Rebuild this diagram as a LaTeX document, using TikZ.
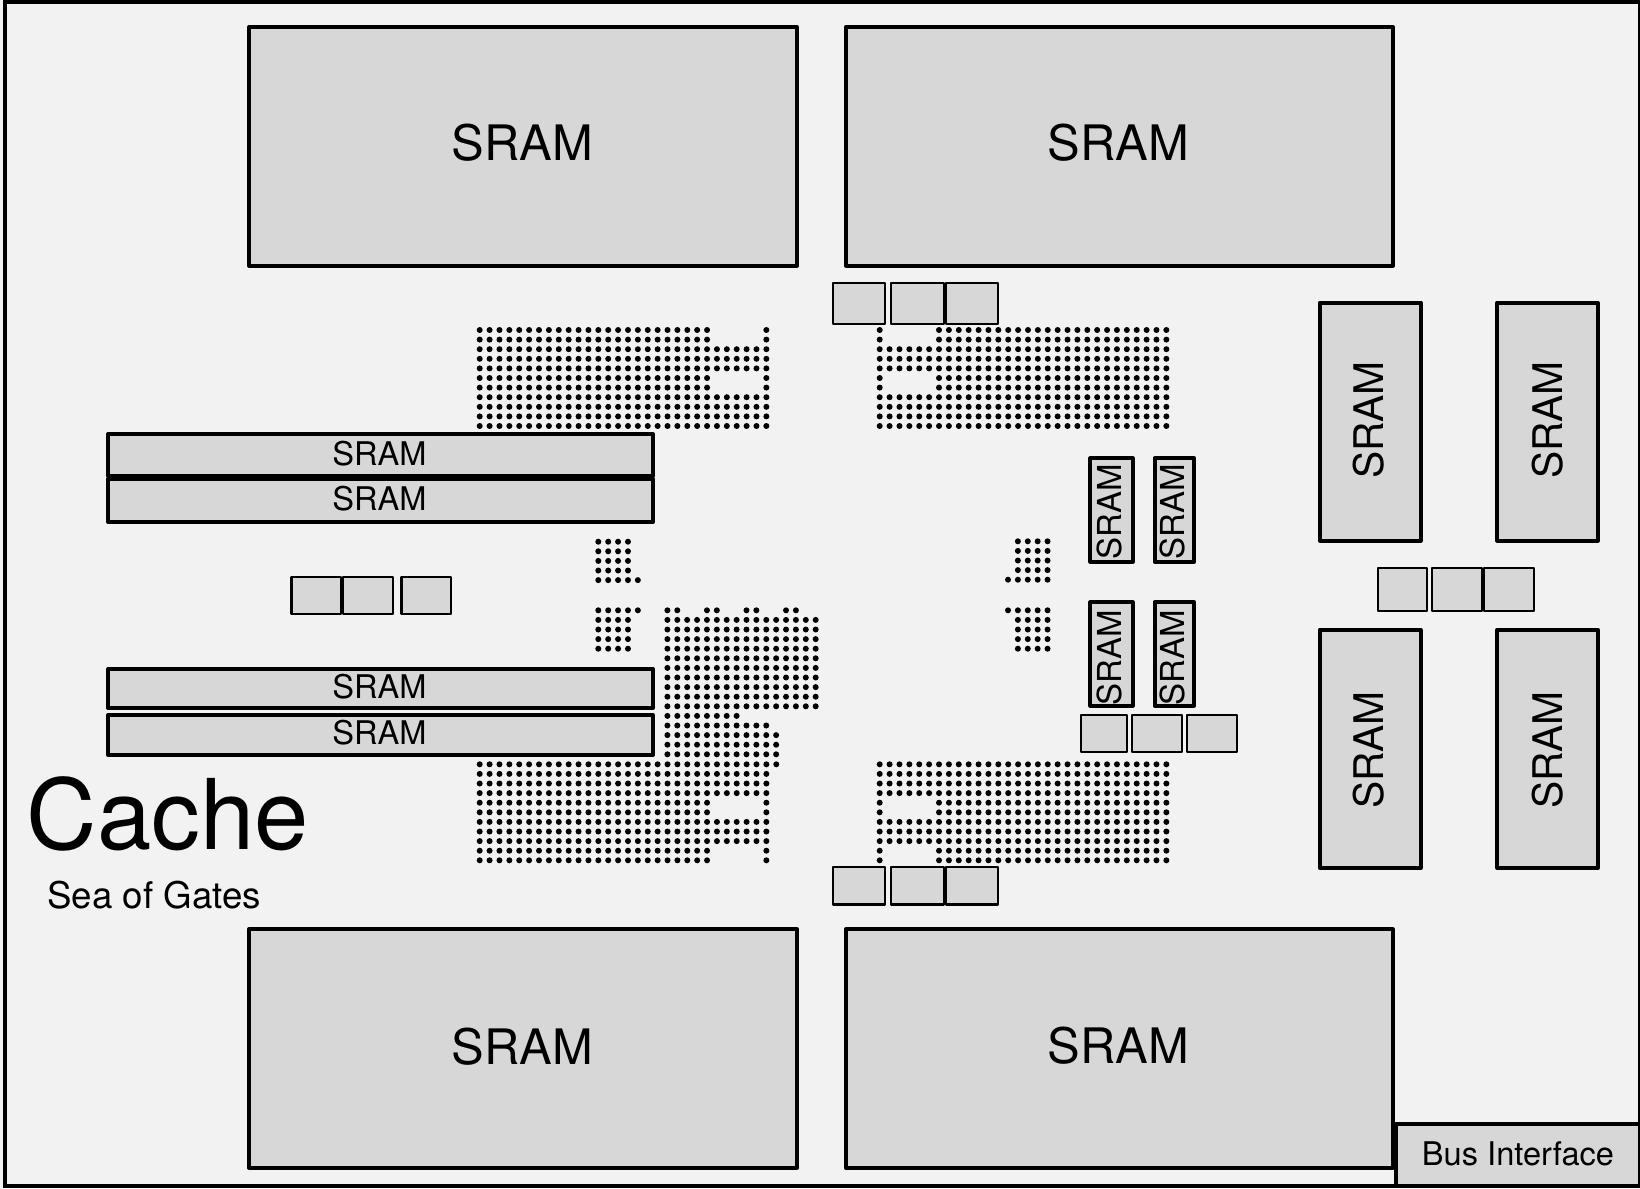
\documentclass[tikz,border=0pt]{standalone}
\usepackage{fontspec}
\setmainfont{TeX Gyre Heros}
\definecolor{bgc}{HTML}{F2F2F2}
\definecolor{cellc}{HTML}{D7D7D7}
\newcommand\fsz[1]{\fontsize{#1}{#1}\selectfont}
\tikzset{
  thick box/.style={draw=black,fill=cellc,line width=4pt,line join=round},
  thin box/.style={draw=black,fill=cellc,line width=2.2pt,line join=round},
  lab/.style={inner sep=0pt,outer sep=0pt,anchor=base,text=black},
  dot/.style={fill=black},
}
% name, x1, y1, x2, y2, style
\newcommand\cell[6]{\draw[#6] (#2,#3) rectangle (#4,#5) coordinate[pos=.5] (#1);}
% x0, y0, list of row/from/to
\newcommand\dotblock[3]{%
  \foreach \r/\a/\b in {#3} {%
    \foreach \c in {\a,...,\b} {%
      \fill[dot] ({#1+9.885*\c},{#2+9.6*\r}) circle[radius=3];
    }%
  }%
}
\begin{document}
\begin{tikzpicture}[x=1pt,y=-1pt]
\useasboundingbox (0,0) rectangle (1640,1188);
\fill[bgc] (0,0) rectangle (1640,1188);
% bus interface
\cell{bus}{1396}{1124.3}{1640}{1186}{thick box}
\node[lab,font=\fsz{32.6}] (busl) at (1518,1165.3) {Bus Interface};
\draw[black,line width=4pt] (4.5,2.2) rectangle (1640,1186);
% big SRAM
\cell{a1}{249}{27}{797}{265.5}{thick box}
\cell{a2}{845.8}{27}{1393}{265.5}{thick box}
\cell{a3}{249}{929.3}{797}{1167.7}{thick box}
\cell{a4}{845.8}{929.3}{1392.8}{1167.7}{thick box}
\node[lab,font=\fsz{48.9}] (a1l) at (522.5,160.5) {SRAM};
\node[lab,font=\fsz{48.9}] (a2l) at (1118.5,160.5) {SRAM};
\node[lab,font=\fsz{48.9}] (a3l) at (522.5,1064) {SRAM};
\node[lab,font=\fsz{48.9}] (a4l) at (1118.5,1063.5) {SRAM};
% long SRAM
\cell{b1}{108}{434}{653}{476.3}{thick box}
\cell{b2}{108}{479.3}{653}{522}{thick box}
\cell{b3}{108}{669}{653}{708}{thick box}
\cell{b4}{108}{715}{653}{754.7}{thick box}
\node[lab,font=\fsz{32.6}] (b1l) at (379.5,465) {SRAM};
\node[lab,font=\fsz{32.6}] (b2l) at (379.5,510) {SRAM};
\node[lab,font=\fsz{32.6}] (b3l) at (379.5,698.3) {SRAM};
\node[lab,font=\fsz{32.6}] (b4l) at (379.5,744) {SRAM};
% right SRAM
\cell{c1}{1319.7}{302.5}{1420.5}{540.5}{thick box}
\cell{c2}{1497.3}{302.5}{1597.7}{540.5}{thick box}
\cell{c3}{1319.7}{629.7}{1420.5}{868}{thick box}
\cell{c4}{1497.3}{629.7}{1597.7}{868}{thick box}
\node[lab,font=\fsz{40.8},rotate=90] (c1l) at (1383,420) {SRAM};
\node[lab,font=\fsz{40.8},rotate=90] (c2l) at (1562.5,420) {SRAM};
\node[lab,font=\fsz{40.8},rotate=90] (c3l) at (1383,750) {SRAM};
\node[lab,font=\fsz{40.8},rotate=90] (c4l) at (1562.5,750) {SRAM};
% small vertical SRAM
\cell{d1}{1090.3}{458.3}{1132.5}{561.8}{thick box}
\cell{d2}{1154.5}{458.3}{1194}{561.8}{thick box}
\cell{d3}{1090.3}{602.3}{1132.5}{705.5}{thick box}
\cell{d4}{1154.5}{602.3}{1194}{705.5}{thick box}
\node[lab,font=\fsz{33},rotate=90] (d1l) at (1121,511.7) {SRAM};
\node[lab,font=\fsz{33},rotate=90] (d2l) at (1184,511.7) {SRAM};
\node[lab,font=\fsz{33},rotate=90] (d3l) at (1121,657.7) {SRAM};
\node[lab,font=\fsz{33},rotate=90] (d4l) at (1184,657.7) {SRAM};
% small empty boxes
\cell{e1}{832.7}{283.3}{885.3}{323.7}{thin box}
\cell{e2}{891}{283.3}{943.7}{323.7}{thin box}
\cell{e3}{945.7}{283.3}{998.3}{323.7}{thin box}
\cell{f1}{832.7}{867.3}{885.3}{904.5}{thin box}
\cell{f2}{891}{867.3}{943.7}{904.5}{thin box}
\cell{f3}{945.7}{867.3}{998.3}{904.5}{thin box}
\cell{g1}{291.5}{576.7}{340.7}{614}{thin box}
\cell{g2}{343.3}{576.7}{393.3}{614}{thin box}
\cell{g3}{401.5}{576.7}{451}{614}{thin box}
\cell{h1}{1377.8}{568}{1426.7}{610.7}{thin box}
\cell{h2}{1432.3}{568}{1482}{610.7}{thin box}
\cell{h3}{1484.3}{568}{1534}{610.7}{thin box}
\cell{i1}{1080.8}{714.7}{1127}{752}{thin box}
\cell{i2}{1132.3}{714.7}{1182}{752}{thin box}
\cell{i3}{1187.3}{714.7}{1237.3}{752}{thin box}
% sea of gates
\dotblock{479.7}{330}{0/0/23,1/0/23,2/0/29,3/0/29,4/0/29,5/0/23,6/0/23,7/0/29,8/0/29,9/0/29,10/0/29,0/29/29,1/29/29,5/29/29,6/29/29}
\dotblock{879.7}{330}{0/6/29,1/6/29,2/0/29,3/0/29,4/0/29,5/6/29,6/6/29,7/0/29,8/0/29,9/0/29,10/0/29,0/0/0,1/0/0,5/0/0,6/0/0}
\dotblock{479.7}{764.3}{0/0/30,1/0/29,2/0/29,3/0/29,4/0/23,5/0/23,6/0/29,7/0/29,8/0/29,9/0/23,10/0/23,4/29/29,5/29/29,9/29/29,10/29/29}
\dotblock{879.7}{764.3}{0/0/29,1/0/29,2/0/29,3/0/29,4/6/29,5/6/29,6/0/29,7/0/29,8/0/29,9/6/29,10/6/29,4/0/0,5/0/0,9/0/0,10/0/0}
\dotblock{667.4}{610.3}{0/0/1,0/4/5,0/8/9,0/12/13,1/0/15,2/0/15,3/0/15,4/0/15,5/0/15,6/0/15,7/0/15,8/0/15,9/0/15,10/0/15,11/0/7,12/0/10,13/0/11,14/0/11,15/0/11}
\dotblock{598.3}{541.7}{0/0/3,1/0/3,2/0/3,3/0/3,4/0/4}
\dotblock{598.3}{610.3}{0/0/4,1/0/3,2/0/3,3/0/3,4/0/3}
\dotblock{1008}{541.3}{0/1/4,1/1/4,2/1/4,3/1/4,4/0/4}
\dotblock{1008}{610.3}{0/0/4,1/1/4,2/1/4,3/1/4,4/1/4}
% titles
\node[lab,anchor=base west,font=\fsz{97.6}] (cache) at (27,849) {Cache};
\node[lab,anchor=base west,font=\fsz{36.7}] (sog) at (47.5,908.5) {Sea of Gates};
\end{tikzpicture}
\end{document}
